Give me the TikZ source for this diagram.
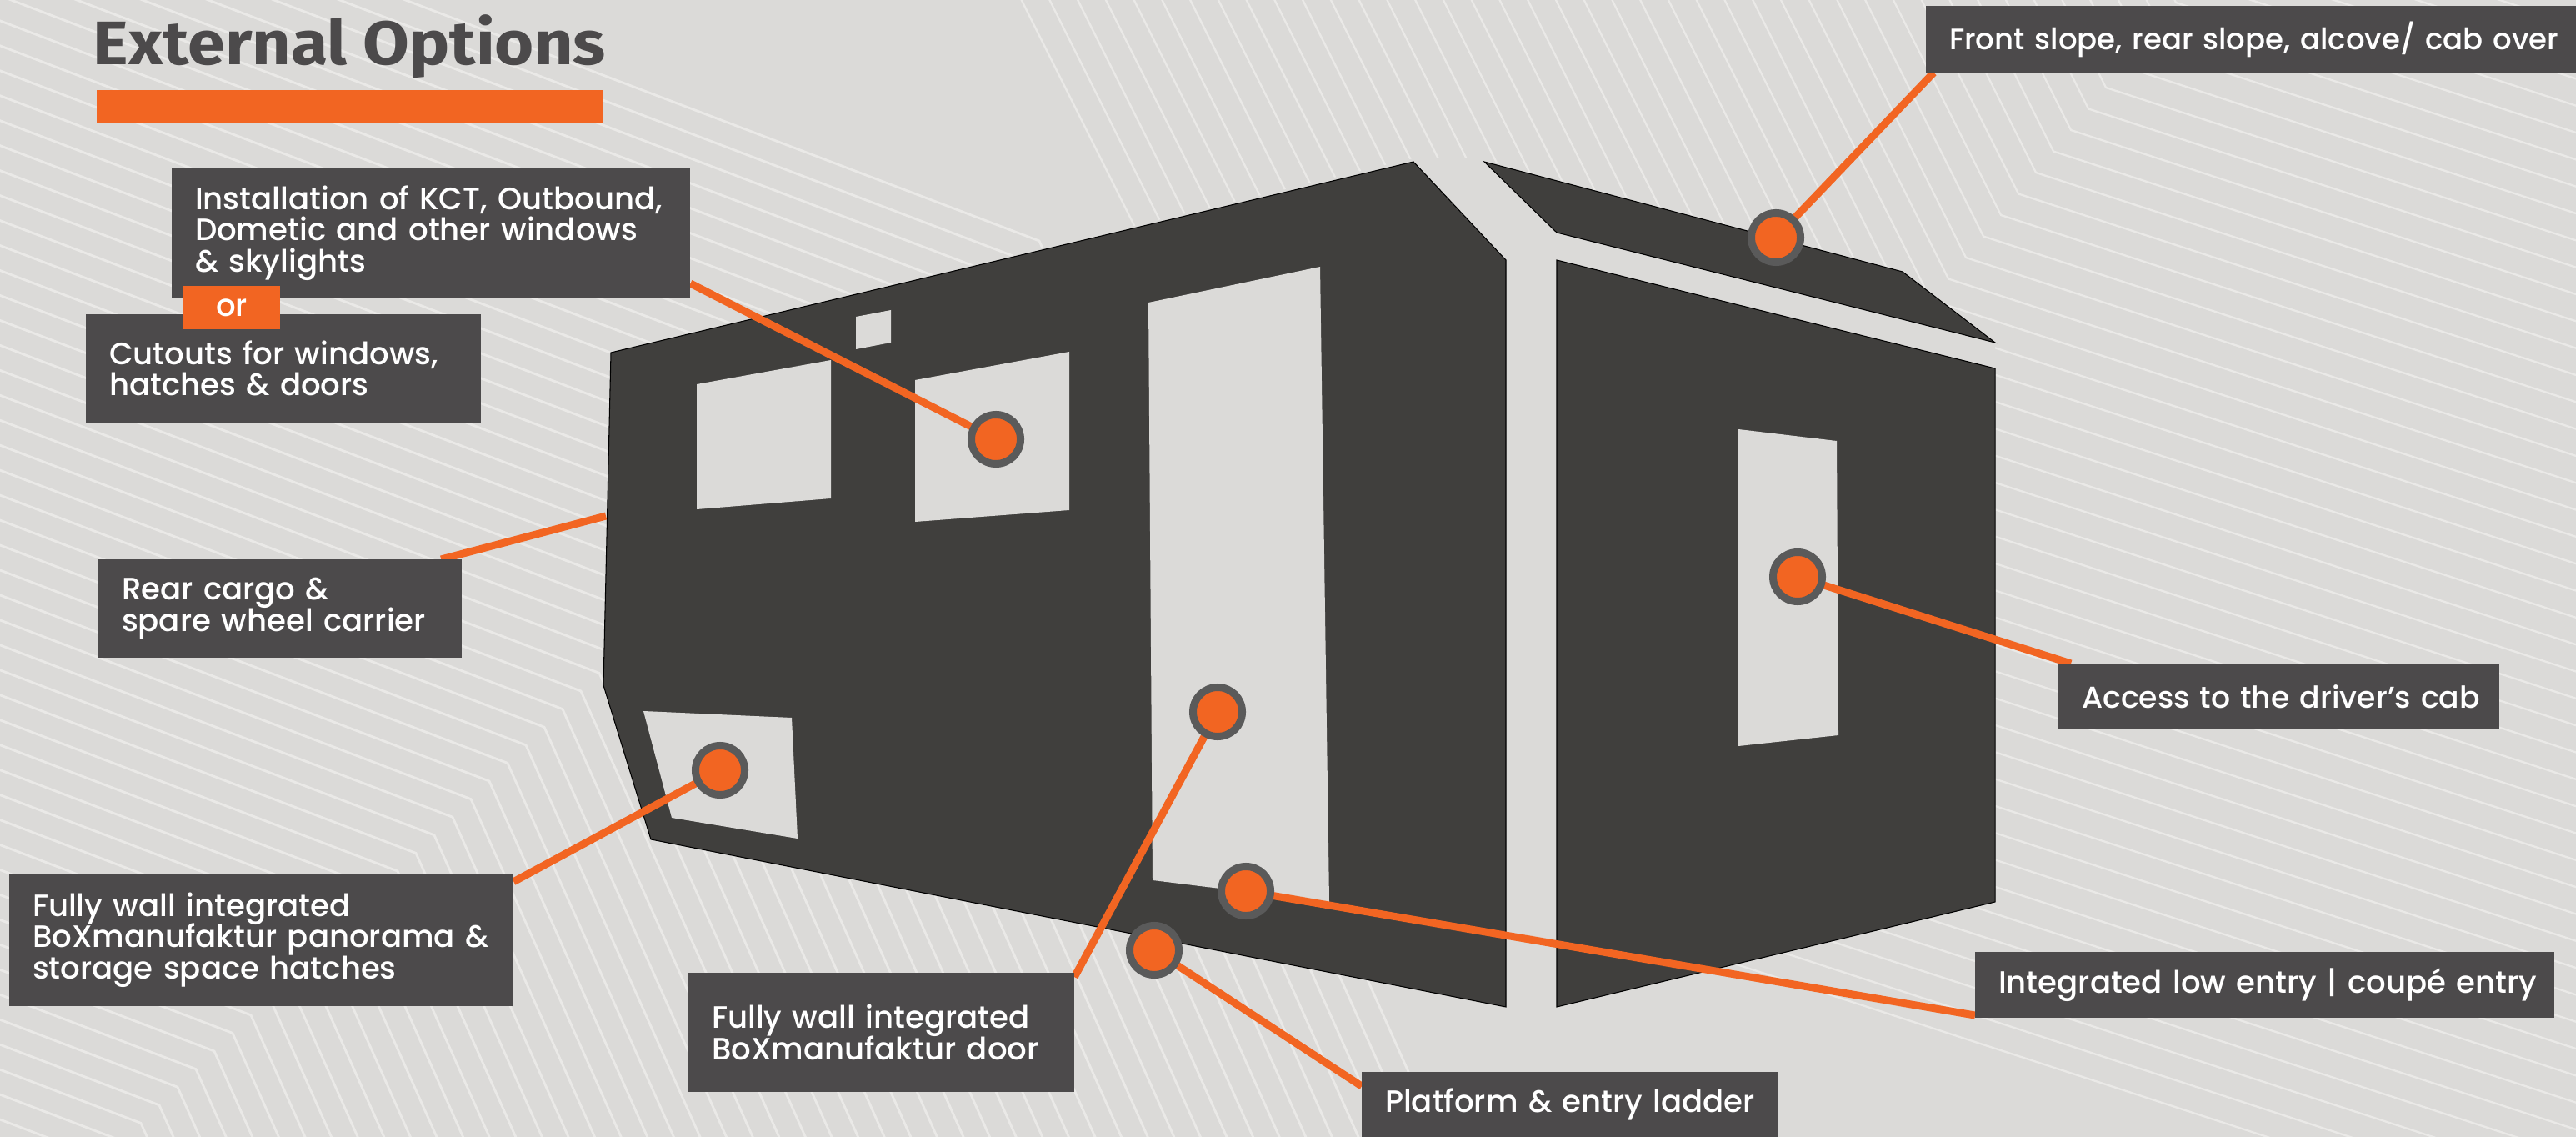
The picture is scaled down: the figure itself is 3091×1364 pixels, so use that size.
\documentclass[tikz,border=0pt]{standalone}
\usepackage{fontspec}
\usepackage{xcolor}
\usepackage{tikz}
\setmainfont{Poppins}[UprightFont=* Medium]
\newfontfamily\titlefont{Fira Sans}[UprightFont=* Bold, FakeStretch=1.095]
\usetikzlibrary{positioning,calc}
\definecolor{pagebg}{HTML}{DBDAD8}
\definecolor{stripe}{HTML}{EAE9E7}
\definecolor{bodydark}{HTML}{403F3D}
\definecolor{boxdark}{HTML}{4C4A4B}
\definecolor{markorange}{HTML}{F26522}
\definecolor{ringgrey}{HTML}{5A5A5A}
\pgfdeclarelayer{back}
\pgfsetlayers{back,main}
\tikzset{
  labelbox/.style 2 args={fill=boxdark, text=white, anchor=north west, align=left, outer sep=0pt,
    inner sep=0pt, minimum width=#1cm, minimum height=#2cm, text width=#1cm,
    execute at begin node={\leftskip=2.8mm\lineskiplimit=-20pt},
    font=\fontsize{10.55}{10.65}\selectfont},
  dotmark/.style={circle, fill=markorange, draw=ringgrey, line width=0.09cm, minimum size=0.59cm, inner sep=0pt, outer sep=0pt},
  leader/.style={draw=markorange, line width=0.09cm},
  shell/.style={fill=bodydark, draw=black, line width=0.3pt},
  cutout/.style={fill=pagebg}
}

\begin{document}
\begin{tikzpicture}[x=0.01cm, y=-0.01cm]
  \useasboundingbox (0,0) rectangle (3091,1364);

  \begin{pgfonlayer}{back}
    \fill[pagebg] (0,0) rectangle (3091,1364);

    % Background chevrons
    \begin{scope}
      \clip (0,0) rectangle (3091,1364);
      \foreach \k in {0,1,...,52} {
        \draw[stripe, line width=0.8pt] ({1247-22*\k-1400}, {289+21.6*\k-532}) -- ({1247-22*\k}, {289+21.6*\k}) -- ++(600,1350);
      }
      \foreach \k in {-25,-24,...,37} {
        \draw[stripe, line width=0.65pt] ({2527-21*\k-600}, {105+25.5*\k-1200}) -- ({2527-21*\k}, {105+25.5*\k}) -- ++(1500,487.5);
      }
    \end{scope}

    % Camper silhouette hides the chevrons in the gaps
    \fill[pagebg] (733,423) -- (1696,190) -- (1781,190) -- (2394,411) -- (2394,1082) -- (1868,1208) -- (1807,1208) -- (781,1007) -- (724,822) -- cycle;

    % Rear and side walls
    \draw[shell] (733,423) -- (1696,194) -- (1807,312) -- (1807,1208) -- (781,1007) -- (724,822) -- cycle;
    \draw[shell] (1781,194) -- (2283,326) -- (2394,411) -- (1868,279) -- cycle;
    \draw[shell] (1868,312) -- (2394,442) -- (2394,1082) -- (1868,1208) -- cycle;

    % Openings
    \fill[cutout] (836,461) -- (997,432) -- (997,598) -- (836,611) -- cycle;
    \fill[cutout] (1098,456) -- (1283,422) -- (1283,612) -- (1098,626) -- cycle;
    \fill[cutout] (1027,380) -- (1069,372) -- (1069,411) -- (1027,419) -- cycle;
    \fill[cutout] (1378,363) -- (1584,320) -- (1595,1082) -- (1383,1056) -- cycle;
    \fill[cutout] (2086,515) -- (2204,529) -- (2206,882) -- (2086,895) -- cycle;
    \fill[cutout] (772,853) -- (950,861) -- (957,1006) -- (806,981) -- cycle;
  \end{pgfonlayer}

  % Heading
  \node[anchor=base west, inner sep=0pt, text=boxdark, font=\fontsize{21}{22}\titlefont] (heading) at (111,78) {External Options};
  \node[fill=markorange, anchor=north west, inner sep=0pt, minimum width=6.08cm, minimum height=0.4cm] (headbar) at (115,107) {};

  % Labels
  \node[labelbox={6.22}{1.55}] (winbox) at (206,202) {Installation of KCT, Outbound,\\Dometic and other windows\\\& skylights};
  \node[labelbox={4.74}{1.30}] (cutbox) at (103,377) {Cutouts for windows,\\hatches \& doors};
  \node[fill=markorange, text=white, anchor=north west, inner sep=0pt, outer sep=0pt, minimum width=1.16cm, minimum height=0.52cm, font=\fontsize{10.55}{11}\selectfont] (orbox) at (220,343) {or};
  \node[labelbox={4.36}{1.18}] (cargobox) at (118,671) {Rear cargo \&\\spare wheel carrier};
  \node[labelbox={6.05}{1.59}] (panobox) at (11,1048) {Fully wall integrated\\BoXmanufaktur panorama \&\\storage space hatches};
  \node[labelbox={4.63}{1.43}] (doorbox) at (826,1167) {Fully wall integrated\\BoXmanufaktur door};
  \node[labelbox={4.99}{0.78}] (ladderbox) at (1634,1286) {Platform \& entry ladder};
  \node[labelbox={6.95}{0.79}] (lowbox) at (2370,1142) {Integrated low entry | coupé entry};
  \node[labelbox={5.29}{0.79}, font=\fontsize{10.3}{10.65}\selectfont] (cabbox) at (2470,796) {Access to the driver’s cab};
  \node[labelbox={7.80}{0.80}, font=\fontsize{10.1}{10.65}\selectfont] (slopebox) at (2311,7) {Front slope, rear slope, alcove/ cab over};

  % Markers
  \node[dotmark] (windot) at (1195,527) {};
  \node[dotmark] (slopedot) at (2131,285) {};
  \node[dotmark] (cabdot) at (2157,692) {};
  \node[dotmark] (doordot) at (1461,854) {};
  \node[dotmark] (lowdot) at (1495,1069) {};
  \node[dotmark] (ladderdot) at (1385,1140) {};
  \node[dotmark] (panodot) at (864,924) {};
  \coordinate (cargotip) at (727,619);

  % Connections
  \begin{pgfonlayer}{back}
    \draw[leader] (winbox.-11) -- (windot);
    \draw[leader] (slopebox.-174.2) -- (slopedot);
    \draw[leader] (cargobox.17.3) -- (cargotip);
    \draw[leader] (cabbox.171.1) -- (cabdot);
    \draw[leader] (lowbox.-174.6) -- (lowdot);
    \draw[leader] (doorbox.16.7) -- (doordot);
    \draw[leader] (ladderbox.175.4) -- (ladderdot);
    \draw[leader] (panobox.13.8) -- (panodot);
  \end{pgfonlayer}
\end{tikzpicture}
\end{document}
